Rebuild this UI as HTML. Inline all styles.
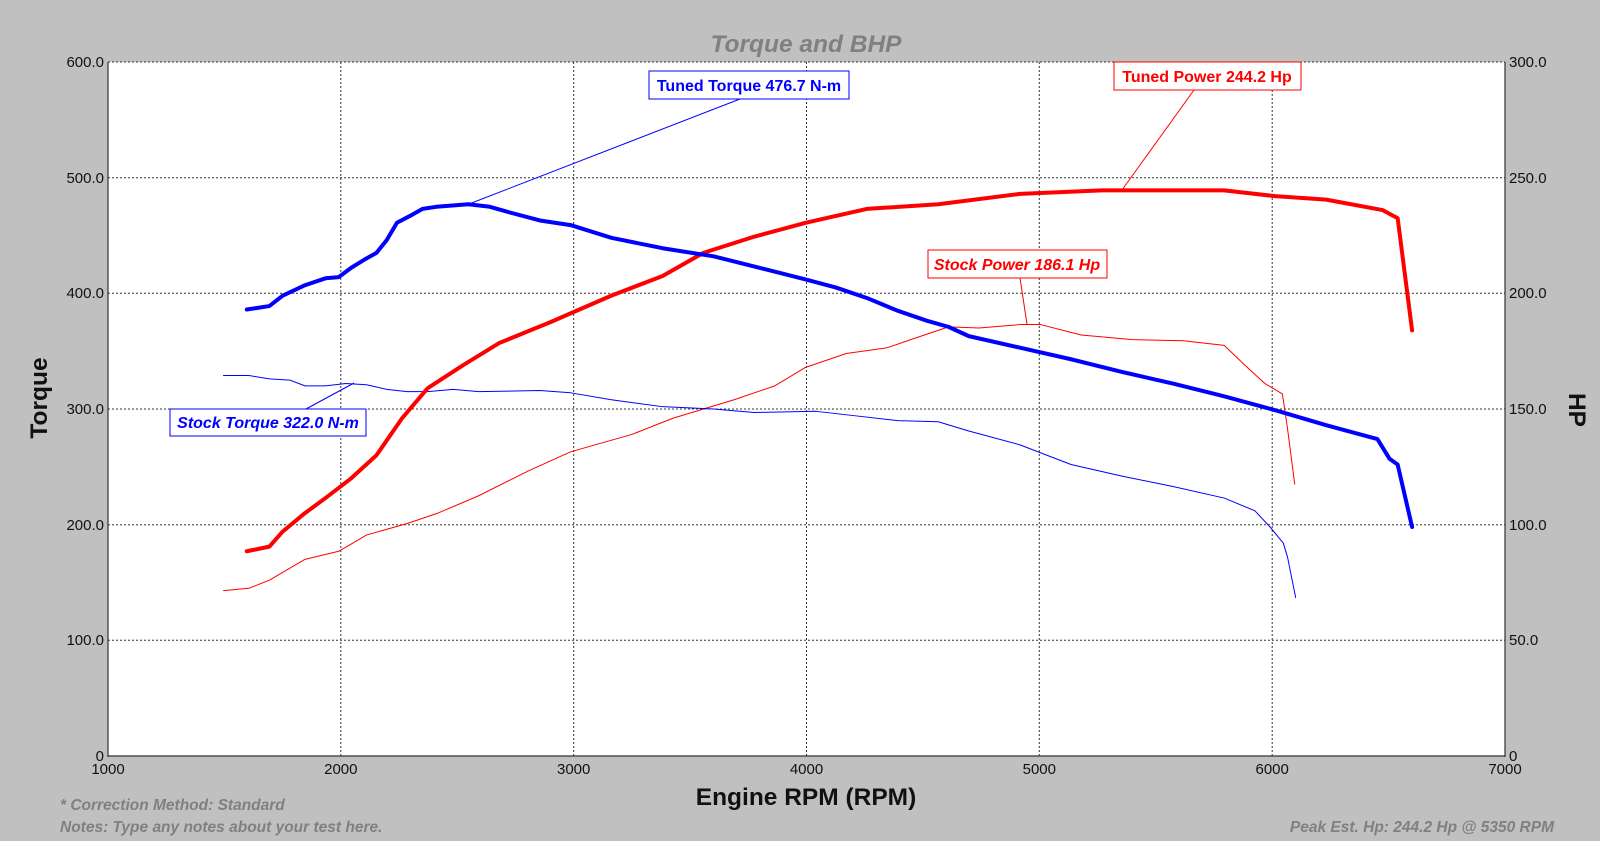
<!DOCTYPE html>
<html><head><meta charset="utf-8"><style>
html,body{margin:0;padding:0;background:#c0c0c0;}
svg{display:block;font-family:"Liberation Sans",Arial,sans-serif;}
</style></head><body>
<svg width="1600" height="841" viewBox="0 0 1600 841" xmlns="http://www.w3.org/2000/svg">
<rect width="1600" height="841" fill="#c0c0c0"/>
<rect x="108" y="62" width="1397" height="694" fill="#fff"/>
<g stroke="#333" stroke-width="1" stroke-dasharray="2,2" fill="none">
<line x1="108" y1="62" x2="1505" y2="62"/>
<line x1="108" y1="177.7" x2="1505" y2="177.7"/>
<line x1="108" y1="293.3" x2="1505" y2="293.3"/>
<line x1="108" y1="409" x2="1505" y2="409"/>
<line x1="108" y1="524.7" x2="1505" y2="524.7"/>
<line x1="108" y1="640.3" x2="1505" y2="640.3"/>
<line x1="340.8" y1="62" x2="340.8" y2="756"/>
<line x1="573.7" y1="62" x2="573.7" y2="756"/>
<line x1="806.5" y1="62" x2="806.5" y2="756"/>
<line x1="1039.3" y1="62" x2="1039.3" y2="756"/>
<line x1="1272.2" y1="62" x2="1272.2" y2="756"/>
</g>
<g stroke="#333" stroke-width="1.2" fill="none">
<line x1="108" y1="62" x2="108" y2="757"/>
<line x1="1505" y1="62" x2="1505" y2="757"/>
<line x1="108" y1="756" x2="1505" y2="756"/>
</g>
<g id="ticks" stroke="#333" stroke-width="1"></g>
<g font-size="15" fill="#111" text-anchor="end">
<text x="104" y="67">600.0</text><text x="104" y="183">500.0</text><text x="104" y="298">400.0</text>
<text x="104" y="414">300.0</text><text x="104" y="530">200.0</text><text x="104" y="645">100.0</text><text x="104" y="761">0</text>
</g>
<g font-size="15" fill="#111" text-anchor="start">
<text x="1509" y="67">300.0</text><text x="1509" y="183">250.0</text><text x="1509" y="298">200.0</text>
<text x="1509" y="414">150.0</text><text x="1509" y="530">100.0</text><text x="1509" y="645">50.0</text><text x="1509" y="761">0</text>
</g>
<g font-size="15" fill="#111" text-anchor="middle">
<text x="108" y="774">1000</text><text x="340.8" y="774">2000</text><text x="573.7" y="774">3000</text>
<text x="806.5" y="774">4000</text><text x="1039.3" y="774">5000</text><text x="1272.2" y="774">6000</text><text x="1505" y="774">7000</text>
</g>
<text x="806" y="52" font-size="24.5" font-weight="bold" font-style="italic" fill="#808080" text-anchor="middle">Torque and BHP</text>
<text x="806" y="805" font-size="24.5" font-weight="bold" fill="#111" text-anchor="middle">Engine RPM (RPM)</text>
<text transform="translate(47,398) rotate(-90)" font-size="24.5" font-weight="bold" fill="#111" text-anchor="middle">Torque</text>
<text transform="translate(1569,410) rotate(90)" font-size="24.5" font-weight="bold" fill="#111" text-anchor="middle">HP</text>
<g font-size="15.5" font-weight="bold" font-style="italic" fill="#808080">
<text x="60" y="810">* Correction Method: Standard</text>
<text x="60" y="832">Notes: Type any notes about your test here.</text>
<text x="1554" y="832" text-anchor="end">Peak Est. Hp: 244.2 Hp @ 5350 RPM</text>
</g>
<g transform="translate(108,756) scale(0.23283,-1.15667)" fill="none" stroke-linejoin="round" stroke-linecap="round">
<polyline vector-effect="non-scaling-stroke" stroke="#ff0000" stroke-width="1" points="496,143 605,145 693,152 846,170 991,177 1110,191 1285,201 1417,210 1592,225 1811,247 1987,263 2250,278 2426,292 2689,308 2864,320 2996,336 3171,348 3347,353 3478,362 3610,371 3741,370 3917,373 4005,373 4180,364 4399,360 4618,359 4794,355 4882,338 4969,322 5044,313 5066,283 5097,235"/>
<polyline vector-effect="non-scaling-stroke" stroke="#0000ff" stroke-width="1" points="496,329 605,329 693,326 781,325 846,320 934,320 1022,322 1110,321 1197,317 1285,315 1373,315 1482,317 1592,315 1855,316 1987,314 2162,308 2382,302 2601,300 2776,297 3040,298 3215,294 3391,290 3566,289 3697,281 3917,269 4136,252 4355,242 4574,233 4794,223 4926,212 4991,198 5048,184 5066,172 5101,137"/>
<polyline vector-effect="non-scaling-stroke" stroke="#ff0000" stroke-width="4" points="596,177 693,181 750,194 846,210 934,223 1044,240 1153,260 1263,292 1373,318 1526,338 1680,357 1899,375 2162,398 2382,415 2557,435 2776,449 2996,461 3259,473 3566,477 3917,486 4268,489 4794,489 5013,484 5232,481 5474,472 5539,465 5601,368"/>
<polyline vector-effect="non-scaling-stroke" stroke="#0000ff" stroke-width="4" points="596,386 693,389 750,398 846,407 934,413 991,414 1044,422 1100,429 1153,435 1197,446 1241,461 1307,468 1351,473 1417,475 1548,477 1636,475 1724,470 1855,463 1987,459 2162,448 2382,439 2601,432 2820,421 2996,412 3127,405 3259,396 3391,385 3522,376 3610,371 3697,363 3917,353 4136,343 4355,332 4574,322 4794,311 5013,299 5232,286 5452,274 5504,257 5539,252 5601,198"/>
</g>
<g stroke-width="1" fill="none">
<line x1="740" y1="99" x2="469" y2="204" stroke="#0000ff"/>
<line x1="1194" y1="90" x2="1122" y2="190" stroke="#ff0000"/>
<line x1="1020" y1="278" x2="1027" y2="324" stroke="#ff0000"/>
<line x1="306" y1="409" x2="354" y2="383" stroke="#0000ff"/>
</g>
<g font-size="16" font-weight="bold">
<rect x="649" y="71" width="200" height="28" fill="#fff" stroke="#0000ff"/>
<text x="749" y="91" fill="#0000ff" text-anchor="middle">Tuned Torque 476.7 N-m</text>
<rect x="1114" y="62" width="187" height="28" fill="#fff" stroke="#ff0000"/>
<text x="1207" y="82" fill="#ff0000" text-anchor="middle">Tuned Power 244.2 Hp</text>
<rect x="928" y="250" width="179" height="28" fill="#fff" stroke="#ff0000"/>
<text x="1017" y="270" fill="#ff0000" text-anchor="middle" font-style="italic">Stock Power 186.1 Hp</text>
<rect x="170" y="409" width="196" height="27" fill="#fff" stroke="#0000ff"/>
<text x="268" y="428" fill="#0000ff" text-anchor="middle" font-style="italic">Stock Torque 322.0 N-m</text>
</g>
<script>
var g=document.getElementById('ticks'),s='';
for(var r=1000;r<=7000;r+=100){var x=108+(r-1000)*0.23283;var l=(r%1000==0)?6:3;s+='<line x1="'+x+'" y1="756" x2="'+x+'" y2="'+(756+l)+'"/>';}
for(var v=0;v<=600;v+=20){var y=756-v*1.15667;var l=(v%100==0)?5:3;s+='<line x1="'+(108-l)+'" y1="'+y+'" x2="108" y2="'+y+'"/><line x1="1505" y1="'+y+'" x2="'+(1505+l)+'" y2="'+y+'"/>';}
g.innerHTML=s;
</script>
</svg>
</body></html>
